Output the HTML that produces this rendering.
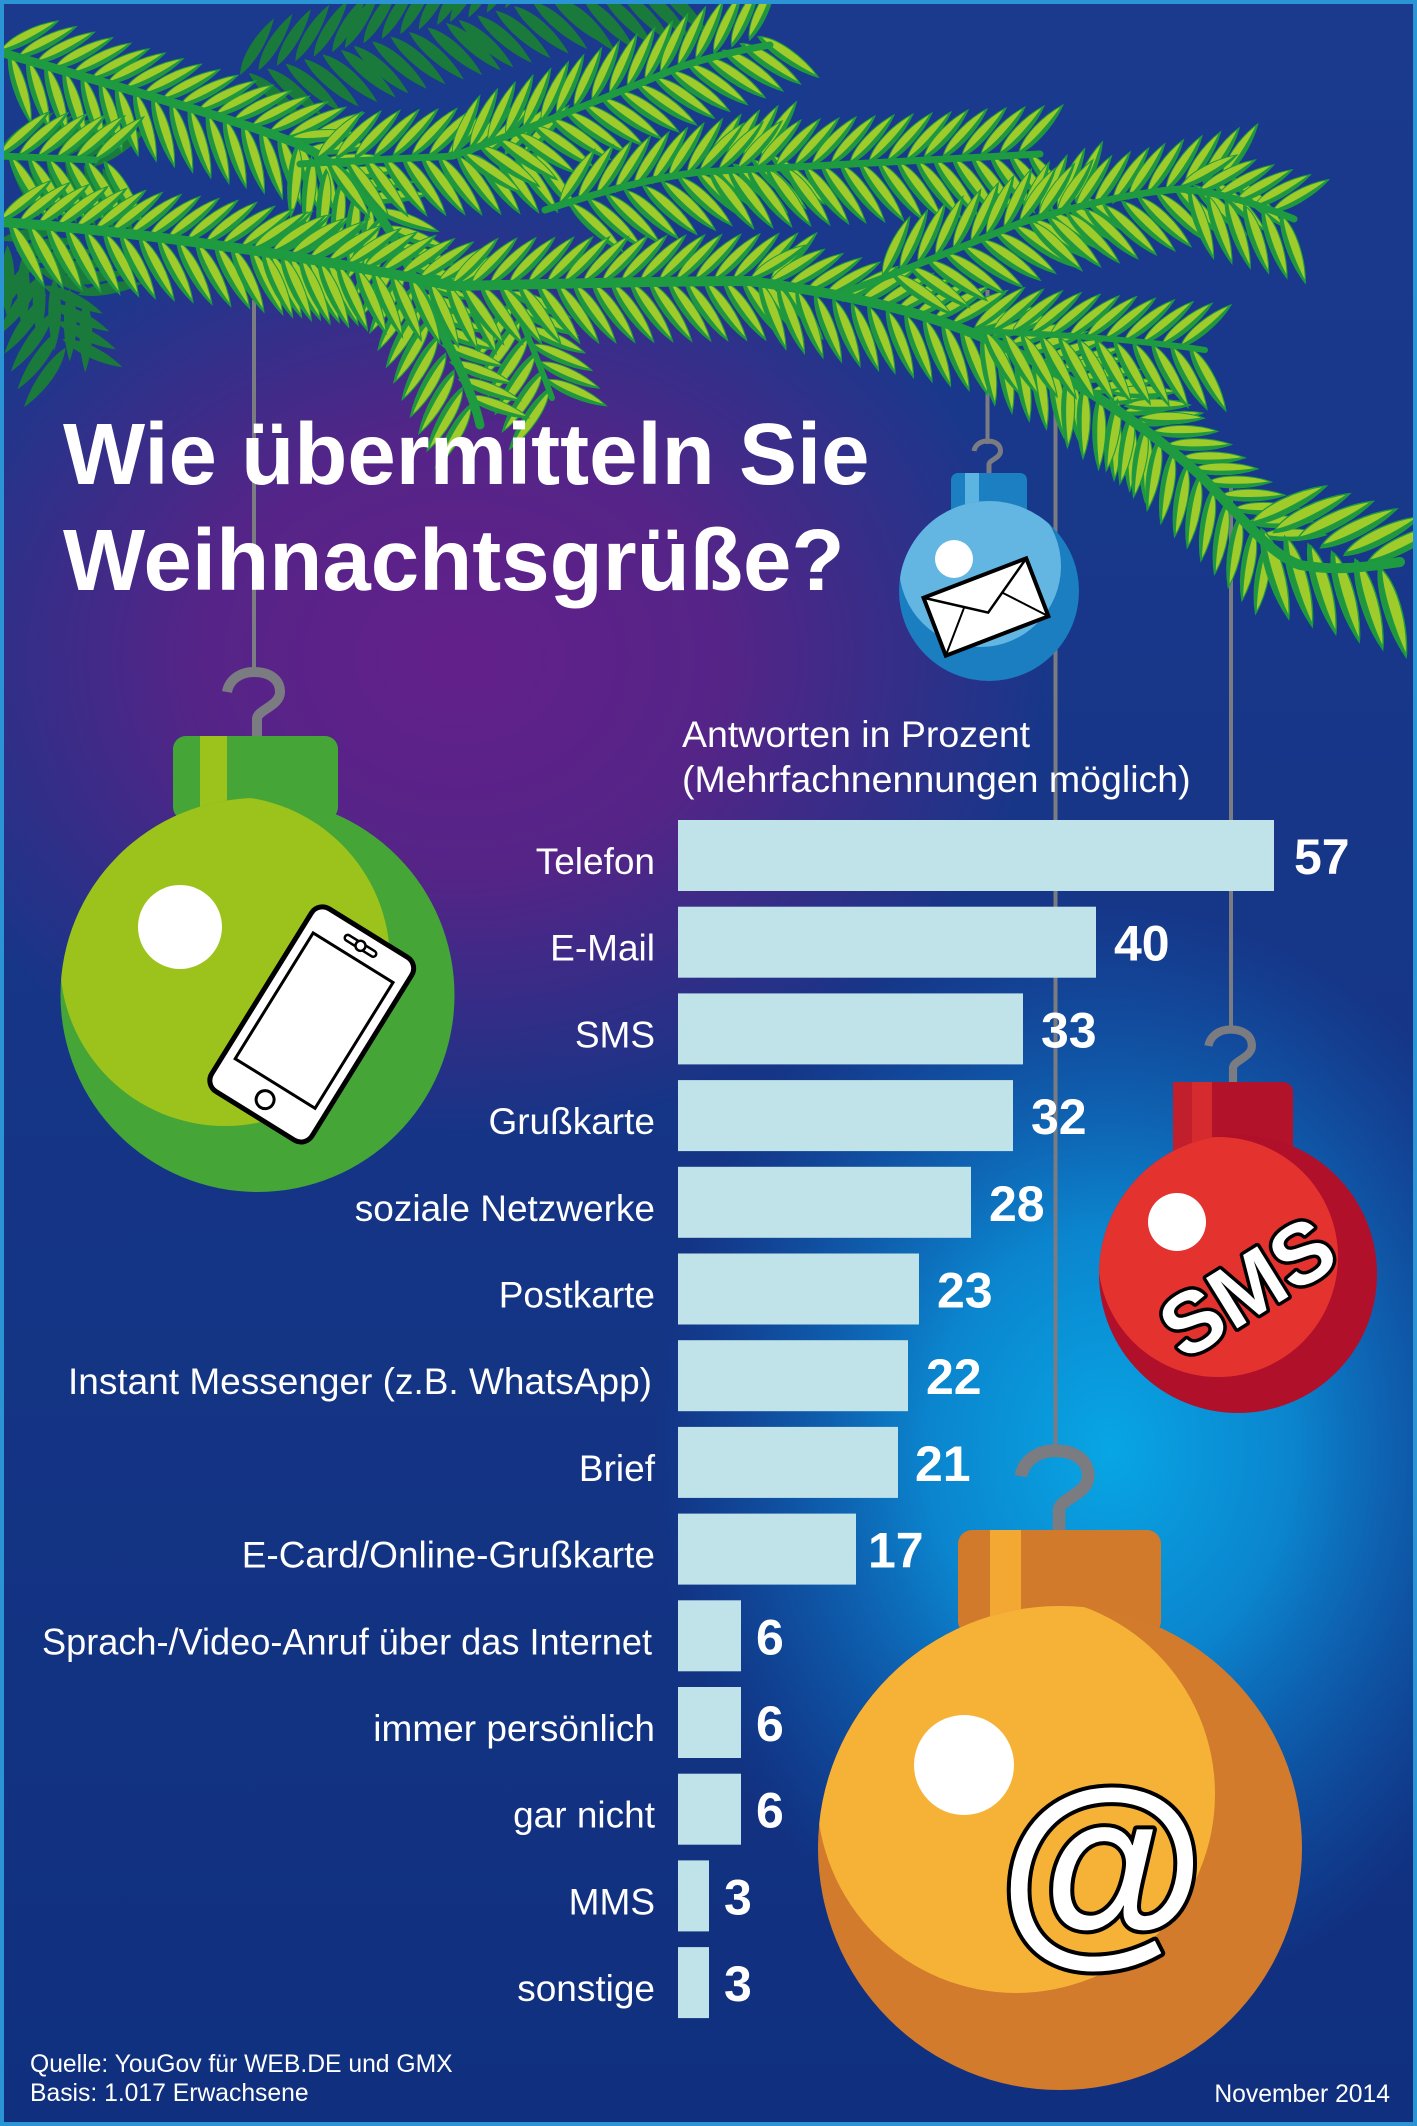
<!DOCTYPE html>
<html><head><meta charset="utf-8">
<style>
html,body{margin:0;padding:0;width:1417px;height:2126px;overflow:hidden;background:#17378a;}
svg{display:block;}
</style></head>
<body>
<svg width="1417" height="2126" viewBox="0 0 1417 2126" xmlns="http://www.w3.org/2000/svg" font-family="'Liberation Sans', Arial, sans-serif">
<defs>
 <linearGradient id="bg" x1="0" y1="0" x2="0" y2="1">
  <stop offset="0" stop-color="#1b3a8e"/><stop offset="1" stop-color="#10307f"/>
 </linearGradient>
 <radialGradient id="pu" gradientUnits="userSpaceOnUse" cx="460" cy="660" r="560" gradientTransform="translate(460 660) scale(1.05 0.85) translate(-460 -660)">
  <stop offset="0" stop-color="#63208b"/><stop offset="0.45" stop-color="#5c2287" stop-opacity="0.9"/><stop offset="1" stop-color="#5c2287" stop-opacity="0"/>
 </radialGradient>
 <radialGradient id="cy" gradientUnits="userSpaceOnUse" cx="1110" cy="1450" r="480" gradientTransform="translate(1110 1450) scale(0.95 1.15) translate(-1110 -1450)">
  <stop offset="0" stop-color="#08a6e4"/><stop offset="0.4" stop-color="#0a8ed6" stop-opacity="0.9"/><stop offset="1" stop-color="#0a6cc4" stop-opacity="0"/>
 </radialGradient>

 <g id="nd"><path d="M0,0C16,-9 44,-8 66,0C44,7 16,7 0,0Z" fill="#20973e"/><path d="M2,-1.5C16,-9 44,-8 65,-0.5C44,2.5 16,2.5 2,-1.5Z" fill="#9fcb2b"/></g>
 <g id="ndd"><path d="M0,0C16,-9 44,-8 66,0C44,7 16,7 0,0Z" fill="#1a7a3c"/></g>

 <g id="tw">
  <use href="#nd" transform="rotate(-45)"/>
  <use href="#nd" transform="translate(19 0) rotate(-45)"/>
  <use href="#nd" transform="translate(38 0) rotate(-45)"/>
  <use href="#nd" transform="translate(57 0) rotate(-45)"/>
  <use href="#nd" transform="translate(76 0) rotate(-45)"/>
  <use href="#nd" transform="translate(95 0) rotate(-45)"/>
  <use href="#nd" transform="translate(9 0) rotate(55) scale(1.1)"/>
  <use href="#nd" transform="translate(28 0) rotate(55) scale(1.1)"/>
  <use href="#nd" transform="translate(47 0) rotate(55) scale(1.1)"/>
  <use href="#nd" transform="translate(66 0) rotate(55) scale(1.1)"/>
  <use href="#nd" transform="translate(85 0) rotate(55) scale(1.1)"/>
  <use href="#nd" transform="translate(104 0) rotate(55) scale(1.1)"/>
 </g>
 <g id="twd">
  <use href="#ndd" transform="rotate(-45)"/>
  <use href="#ndd" transform="translate(19 0) rotate(-45)"/>
  <use href="#ndd" transform="translate(38 0) rotate(-45)"/>
  <use href="#ndd" transform="translate(57 0) rotate(-45)"/>
  <use href="#ndd" transform="translate(76 0) rotate(-45)"/>
  <use href="#ndd" transform="translate(95 0) rotate(-45)"/>
  <use href="#ndd" transform="translate(9 0) rotate(55) scale(1.1)"/>
  <use href="#ndd" transform="translate(28 0) rotate(55) scale(1.1)"/>
  <use href="#ndd" transform="translate(47 0) rotate(55) scale(1.1)"/>
  <use href="#ndd" transform="translate(66 0) rotate(55) scale(1.1)"/>
  <use href="#ndd" transform="translate(85 0) rotate(55) scale(1.1)"/>
  <use href="#ndd" transform="translate(104 0) rotate(55) scale(1.1)"/>
 </g>

 <path id="hk" d="M0,0 L0,-17 C0,-26 23,-30 23,-44 C23,-57 12,-64 -3,-64 C-17,-64 -28,-56 -30,-44" fill="none" stroke="#7b7b82" stroke-width="10"/>

 <clipPath id="cG"><circle cx="257.5" cy="995" r="197"/></clipPath>
 <clipPath id="cB"><circle cx="989" cy="591" r="90"/></clipPath>
 <clipPath id="cR"><circle cx="1238" cy="1274" r="139"/></clipPath>
 <clipPath id="cO"><circle cx="1060" cy="1848" r="242"/></clipPath>
</defs>

<!-- background -->
<rect x="0" y="0" width="1417" height="2126" fill="url(#bg)"/>
<rect x="0" y="0" width="1417" height="2126" fill="url(#pu)"/>
<rect x="0" y="0" width="1417" height="2126" fill="url(#cy)"/>

<!-- strings -->
<g stroke="#7b7b82" stroke-width="4">
 <line x1="254" y1="300" x2="254" y2="675"/>
 <line x1="987.5" y1="290" x2="987.5" y2="444"/>
 <line x1="1055.5" y1="380" x2="1055.5" y2="1454"/>
 <line x1="1231" y1="480" x2="1231" y2="1032"/>
</g>

<!-- branch: dark background twigs -->
<use href="#twd" transform="translate(240 75) rotate(-14)"/>
<use href="#twd" transform="translate(345 48) rotate(-14)"/>
<use href="#twd" transform="translate(450 22) rotate(-14)"/>
<use href="#twd" transform="translate(555 2) rotate(-10)"/>
<use href="#twd" transform="translate(0 150) rotate(10)"/>
<use href="#twd" transform="translate(0 240) rotate(35)"/>
<use href="#twd" transform="translate(30 250) rotate(70)"/>

<g fill="none" stroke="#1e9a40" stroke-linecap="round">
<!-- extra hanging twig -->
<use href="#tw" transform="translate(510 292) rotate(68)"/>
<path d="M510,292 C525,330 540,365 552,398" stroke-width="6"/>
<!-- A -->
<use href="#tw" transform="translate(0 52) rotate(17)"/>
<use href="#tw" transform="translate(107 84) rotate(17)"/>
<use href="#tw" transform="translate(215 116) rotate(17)"/>
<use href="#tw" transform="translate(290 139) rotate(40)"/>
<use href="#tw" transform="translate(376 210) rotate(64)"/>
<use href="#tw" transform="translate(425 311) rotate(64)"/>
<path d="M0,52 C120,88 240,120 300,145 C350,168 385,215 410,270 C440,330 470,380 480,425" stroke-width="9"/>
<!-- B -->
<use href="#tw" transform="translate(0 156) rotate(3)"/>
<path d="M0,156 L95,160" stroke-width="7"/>
<!-- D -->
<use href="#tw" transform="translate(317 160) rotate(-2)"/>
<use href="#tw" transform="translate(429 157) rotate(-2)"/>
<use href="#tw" transform="translate(453 156) rotate(-21)"/>
<use href="#tw" transform="translate(557 115) rotate(-21)"/>
<use href="#tw" transform="translate(661 74) rotate(-21)"/>
<path d="M300,164 C360,160 420,158 453,156 C520,132 600,100 680,67 C710,57 740,50 770,45" stroke-width="7"/>
<!-- E -->
<use href="#tw" transform="translate(560 205) rotate(-13)"/>
<use href="#tw" transform="translate(669 179) rotate(-13)"/>
<use href="#tw" transform="translate(700 172) rotate(-3)"/>
<use href="#tw" transform="translate(812 166) rotate(-3)"/>
<use href="#tw" transform="translate(924 159) rotate(-3)"/>
<path d="M545,210 C600,192 650,178 700,172 C800,166 920,160 1040,154" stroke-width="7"/>
<!-- C / main -->
<use href="#tw" transform="translate(0 222) rotate(6)"/>
<use href="#tw" transform="translate(111 234) rotate(6)"/>
<use href="#tw" transform="translate(222 246) rotate(8)"/>
<use href="#tw" transform="translate(253 250) rotate(10)"/>
<use href="#tw" transform="translate(363 270) rotate(10)"/>
<use href="#tw" transform="translate(452 286) rotate(-1)"/>
<use href="#tw" transform="translate(564 284) rotate(-1)"/>
<use href="#tw" transform="translate(676 282) rotate(-1)"/>
<use href="#tw" transform="translate(750 280) rotate(13)"/>
<use href="#tw" transform="translate(859 304) rotate(13)"/>
<use href="#tw" transform="translate(974 330) rotate(25)"/>
<use href="#tw" transform="translate(1060 370) rotate(35)"/>
<use href="#tw" transform="translate(1111 393) rotate(44)"/>
<use href="#tw" transform="translate(1192 470) rotate(44)"/>
<use href="#tw" transform="translate(1250 525) rotate(18) scale(1.3)"/>
<path d="M0,222 C150,232 330,260 452,286 C560,284 660,281 750,281 C850,295 930,312 1000,345 C1080,380 1150,430 1200,475 C1240,515 1270,555 1300,565 C1340,572 1370,566 1400,562" stroke-width="10"/>
<!-- H -->
<use href="#tw" transform="translate(974 330) rotate(5)"/>
<use href="#tw" transform="translate(1086 339) rotate(5)"/>
<path d="M974,331 C1060,334 1140,340 1205,350" stroke-width="6"/>
<!-- G -->
<use href="#tw" transform="translate(883 277) rotate(-21)"/>
<use href="#tw" transform="translate(987 236) rotate(-21)"/>
<use href="#tw" transform="translate(1020 223) rotate(-12)"/>
<use href="#tw" transform="translate(1129 199) rotate(-12)"/>
<use href="#tw" transform="translate(1180 188) rotate(15)"/>
<path d="M845,292 C900,272 960,248 1020,223 C1080,205 1130,193 1180,189 C1220,192 1260,205 1294,219" stroke-width="7"/>
</g>

<!-- title -->
<text x="63" y="484" font-size="87" font-weight="bold" fill="#ffffff">Wie übermitteln Sie</text>
<text x="63" y="590" font-size="87" font-weight="bold" fill="#ffffff">Weihnachtsgrüße?</text>

<!-- header -->
<text x="682" y="747" font-size="37.5" fill="#ffffff">Antworten in Prozent</text>
<text x="682" y="792" font-size="37.5" fill="#ffffff">(Mehrfachnennungen möglich)</text>

<!-- bars -->
<g fill="#bfe3e9">
 <rect x="678" y="820" width="596" height="71"/>
 <rect x="678" y="906.7" width="418" height="71"/>
 <rect x="678" y="993.4" width="345" height="71"/>
 <rect x="678" y="1080.1" width="335" height="71"/>
 <rect x="678" y="1166.8" width="293" height="71"/>
 <rect x="678" y="1253.5" width="241" height="71"/>
 <rect x="678" y="1340.2" width="230" height="71"/>
 <rect x="678" y="1426.9" width="220" height="71"/>
 <rect x="678" y="1513.6" width="178" height="71"/>
 <rect x="678" y="1600.3" width="63" height="71"/>
 <rect x="678" y="1687" width="63" height="71"/>
 <rect x="678" y="1773.7" width="63" height="71"/>
 <rect x="678" y="1860.4" width="31" height="71"/>
 <rect x="678" y="1947.1" width="31" height="71"/>
</g>

<!-- labels -->
<g font-size="37" fill="#ffffff" text-anchor="end">
 <text x="655" y="874">Telefon</text>
 <text x="655" y="960.7">E-Mail</text>
 <text x="655" y="1047.4">SMS</text>
 <text x="655" y="1134.1">Grußkarte</text>
 <text x="655" y="1220.8">soziale Netzwerke</text>
 <text x="655" y="1307.5">Postkarte</text>
 <text x="652" y="1394.2">Instant Messenger (z.B. WhatsApp)</text>
 <text x="655" y="1480.9">Brief</text>
 <text x="655" y="1567.6">E-Card/Online-Grußkarte</text>
 <text x="652" y="1654.3" textLength="610" lengthAdjust="spacingAndGlyphs">Sprach-/Video-Anruf über das Internet</text>
 <text x="655" y="1741">immer persönlich</text>
 <text x="655" y="1827.7">gar nicht</text>
 <text x="655" y="1914.4">MMS</text>
 <text x="655" y="2001.1">sonstige</text>
</g>

<!-- values -->
<g font-size="50" font-weight="bold" fill="#ffffff">
 <text x="1294" y="874">57</text>
 <text x="1114" y="960.7">40</text>
 <text x="1041" y="1047.4">33</text>
 <text x="1031" y="1134.1">32</text>
 <text x="989" y="1220.8">28</text>
 <text x="937" y="1307.5">23</text>
 <text x="926" y="1394.2">22</text>
 <text x="915" y="1480.9">21</text>
 <text x="868" y="1567.6">17</text>
 <text x="756" y="1654.3">6</text>
 <text x="756" y="1741">6</text>
 <text x="756" y="1827.7">6</text>
 <text x="724" y="1914.4">3</text>
 <text x="724" y="2001.1">3</text>
</g>

<!-- footer -->
<g font-size="24.7" fill="#ffffff">
 <text x="30" y="2072">Quelle: YouGov für WEB.DE und GMX</text>
 <text x="30" y="2101">Basis: 1.017 Erwachsene</text>
 <text x="1390" y="2102" text-anchor="end">November 2014</text>
</g>

<!-- green ball -->
<use href="#hk" transform="translate(257 736)"/>
<rect x="173" y="736" width="165" height="84" rx="13" fill="#45a637"/>
<rect x="200" y="736" width="27" height="84" fill="#9cc31b"/>
<circle cx="257.5" cy="995" r="197" fill="#45a637"/>
<circle cx="225" cy="961" r="165" fill="#9cc31b" clip-path="url(#cG)"/>
<circle cx="180" cy="927" r="42" fill="#ffffff"/>
<g transform="translate(312 1024) rotate(31.8)">
 <rect x="-59" y="-107" width="118" height="215" rx="13" fill="#ffffff" stroke="#000" stroke-width="5"/>
 <rect x="-47" y="-78" width="94" height="148" fill="#ffffff" stroke="#000" stroke-width="3"/>
 <circle cx="0" cy="89" r="9" fill="#ffffff" stroke="#000" stroke-width="3"/>
 <rect x="-18" y="-95" width="36" height="6" rx="3" fill="#ffffff" stroke="#000" stroke-width="2.5"/>
 <circle cx="0" cy="-92" r="5" fill="#ffffff" stroke="#000" stroke-width="2.5"/>
</g>

<!-- blue ball -->
<use href="#hk" transform="translate(989 473) scale(0.5)"/>
<rect x="951" y="473" width="76" height="42" rx="7" fill="#1b7fc1"/>
<rect x="965" y="473" width="14" height="42" fill="#5cb5e1"/>
<circle cx="989" cy="591" r="90" fill="#1b7ec0"/>
<circle cx="980" cy="566" r="81" fill="#63b6e2" clip-path="url(#cB)"/>
<circle cx="954" cy="559" r="19" fill="#ffffff"/>
<g transform="translate(986 607) rotate(-21)">
 <rect x="-55" y="-31" width="110" height="62" fill="#ffffff" stroke="#000" stroke-width="4"/>
 <polyline points="-55,-31 0,6 55,-31" fill="none" stroke="#000" stroke-width="2.5"/>
 <line x1="-55" y1="31" x2="-20" y2="-8" stroke="#000" stroke-width="2"/>
 <line x1="55" y1="31" x2="20" y2="-8" stroke="#000" stroke-width="2"/>
</g>

<!-- red ball -->
<use href="#hk" transform="translate(1233 1082) scale(0.82)"/>
<rect x="1173" y="1082" width="120" height="73" rx="10" fill="#b2132b"/>
<rect x="1173" y="1082" width="20" height="73" fill="#c21f2c"/>
<rect x="1192" y="1082" width="20" height="73" fill="#d62b2e"/>
<circle cx="1238" cy="1274" r="139" fill="#b0102a"/>
<circle cx="1218" cy="1257" r="120" fill="#e4322f" clip-path="url(#cR)"/>
<circle cx="1177" cy="1222" r="29" fill="#ffffff"/>
<text transform="translate(1247 1287) rotate(-31.8)" y="30" text-anchor="middle" font-size="86" font-weight="bold" fill="#ffffff" stroke="#000" stroke-width="7" paint-order="stroke" stroke-linejoin="round">SMS</text>

<!-- orange ball -->
<use href="#hk" transform="translate(1059 1532) scale(1.27)"/>
<rect x="958" y="1530" width="203" height="105" rx="14" fill="#d27a2b"/>
<rect x="990" y="1530" width="31" height="105" fill="#f2a833"/>
<circle cx="1060" cy="1848" r="242" fill="#d27b2d"/>
<circle cx="1016" cy="1794" r="199" fill="#f6b236" clip-path="url(#cO)"/>
<circle cx="964" cy="1765" r="50" fill="#ffffff"/>
<text x="1102" y="1938" text-anchor="middle" font-size="212" font-weight="bold" fill="#ffffff" stroke="#000" stroke-width="8" paint-order="stroke" stroke-linejoin="round">@</text>

<!-- frame -->
<rect x="2" y="2" width="1413" height="2122" fill="none" stroke="#2a94d4" stroke-width="4"/>
</svg>
</body></html>
